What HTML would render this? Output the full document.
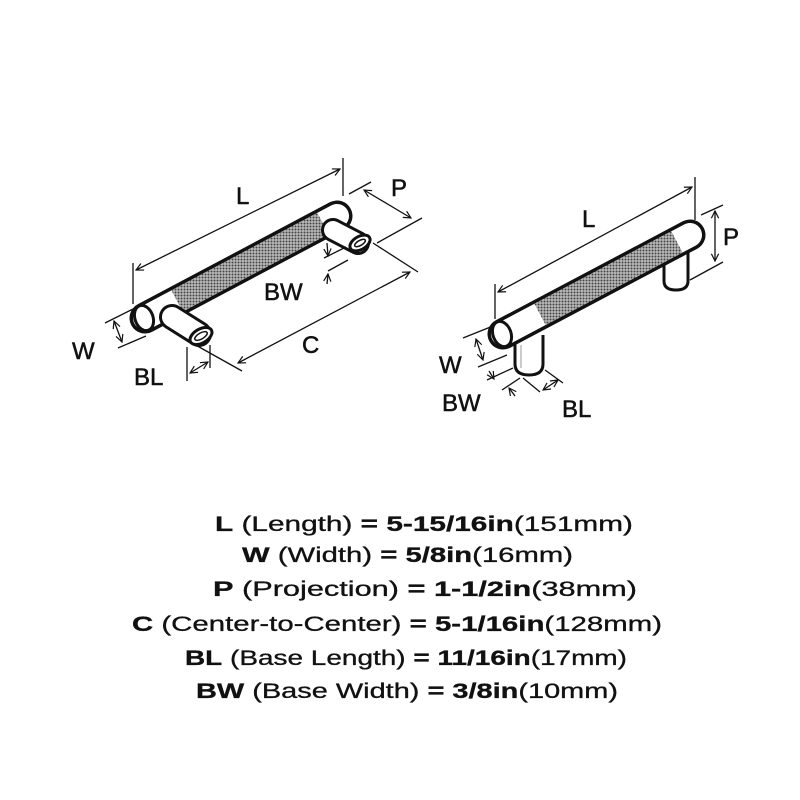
<!DOCTYPE html>
<html><head><meta charset="utf-8"><style>
html,body{margin:0;padding:0;background:#fff;}
svg{display:block;}
text{font-family:"Liberation Sans",sans-serif;fill:#111;}
.lb{font-size:24px;stroke:#111;stroke-width:0.5px;}
</style></head><body>
<svg width="800" height="800" viewBox="0 0 800 800" xmlns="http://www.w3.org/2000/svg">
<defs>
<pattern id="kn" width="3" height="3" patternUnits="userSpaceOnUse">
<rect width="3" height="3" fill="#bbb"/>
<circle cx="1.5" cy="1.5" r="1" fill="#444"/>
</pattern>
<marker id="ar" viewBox="0 0 10 10" refX="9" refY="5" markerWidth="7" markerHeight="7" orient="auto-start-reverse">
<path d="M1,1 L9,5 L1,9" fill="none" stroke="#111" stroke-width="1.3"/>
</marker>
</defs>

<!-- LEFT HANDLE -->
<g stroke-linecap="round">
<line x1="145" y1="318" x2="337" y2="216" stroke="#111" stroke-width="31"/>
<line x1="145" y1="318" x2="337" y2="216" stroke="#fff" stroke-width="24"/>
<line x1="177" y1="301" x2="323" y2="223.5" stroke="url(#kn)" stroke-width="24" stroke-linecap="butt"/>
</g>
<ellipse cx="144" cy="318" rx="9" ry="13" transform="rotate(-20 144 318)" fill="#fff" stroke="#111" stroke-width="3"/>
<!-- left post -->
<g stroke-linecap="round">
<line x1="172" y1="317" x2="199" y2="334" stroke="#111" stroke-width="26"/>
<line x1="172" y1="317" x2="199" y2="334" stroke="#fff" stroke-width="20"/>
</g>
<ellipse cx="201" cy="336" rx="12" ry="7" transform="rotate(-30 201 336)" fill="#fff" stroke="#111" stroke-width="3"/>
<ellipse cx="201" cy="336" rx="7" ry="3" transform="rotate(-30 201 336)" fill="none" stroke="#111" stroke-width="1.5"/>
<!-- right post -->
<g stroke-linecap="round">
<line x1="333" y1="230" x2="358" y2="243" stroke="#111" stroke-width="24"/>
<line x1="333" y1="230" x2="358" y2="243" stroke="#fff" stroke-width="18"/>
</g>
<ellipse cx="360" cy="243" rx="11" ry="6.5" transform="rotate(-30 360 243)" fill="#fff" stroke="#111" stroke-width="3"/>
<ellipse cx="360" cy="243" rx="6" ry="2.5" transform="rotate(-30 360 243)" fill="none" stroke="#111" stroke-width="1.5"/>

<!-- left dims -->
<g stroke="#111" stroke-width="1.3" fill="none">
<line x1="133" y1="263" x2="133" y2="304"/>
<line x1="343" y1="158" x2="343" y2="196"/>
<line x1="136" y1="270" x2="340" y2="169" marker-start="url(#ar)" marker-end="url(#ar)"/>
<line x1="349" y1="194" x2="371" y2="182"/>
<line x1="377" y1="243" x2="422" y2="218"/>
<line x1="364" y1="190" x2="411" y2="218" marker-start="url(#ar)" marker-end="url(#ar)"/>
<line x1="373" y1="243" x2="418" y2="272"/>
<line x1="192" y1="343" x2="242" y2="371"/>
<line x1="238" y1="363" x2="410" y2="272" marker-start="url(#ar)" marker-end="url(#ar)"/>
<line x1="327" y1="243" x2="328" y2="256" marker-end="url(#ar)"/>
<line x1="324" y1="258" x2="346" y2="247"/>
<line x1="328" y1="271" x2="348" y2="260"/>
<line x1="327" y1="284" x2="328" y2="274" marker-end="url(#ar)"/>
<line x1="105" y1="323" x2="133" y2="309"/>
<line x1="118" y1="348" x2="146" y2="336"/>
<line x1="114" y1="321" x2="122" y2="342" marker-start="url(#ar)" marker-end="url(#ar)"/>
<line x1="187" y1="347" x2="187" y2="381"/>
<line x1="210" y1="345" x2="210" y2="368"/>
<line x1="190" y1="373" x2="208" y2="362" marker-start="url(#ar)" marker-end="url(#ar)"/>
</g>
<text class="lb" x="236" y="204">L</text>
<text class="lb" x="391" y="196">P</text>
<text class="lb" x="264" y="300">BW</text>
<text class="lb" x="72" y="359">W</text>
<text class="lb" x="134" y="385">BL</text>
<text class="lb" x="302" y="353">C</text>

<!-- RIGHT HANDLE -->
<path d="M515,335 L515,364 Q515,375 529,375 Q543,375 543,364 L543,335" fill="#fff" stroke="#111" stroke-width="3"/>
<line x1="521" y1="345" x2="521" y2="368" stroke="#999" stroke-width="1"/>
<path d="M664,240 L664,281 Q664,290 676,290 Q688,290 688,281 L688,240" fill="#fff" stroke="#111" stroke-width="3"/>
<g stroke-linecap="round">
<line x1="503" y1="334" x2="690" y2="235" stroke="#111" stroke-width="31"/>
<line x1="503" y1="334" x2="690" y2="235" stroke="#fff" stroke-width="24"/>
<line x1="540" y1="314.4" x2="677" y2="241.9" stroke="url(#kn)" stroke-width="24" stroke-linecap="butt"/>
</g>
<ellipse cx="502" cy="334" rx="9" ry="13" transform="rotate(-20 502 334)" fill="#fff" stroke="#111" stroke-width="3"/>

<g stroke="#111" stroke-width="1.3" fill="none">
<line x1="495" y1="284" x2="495" y2="319"/>
<line x1="695" y1="177" x2="695" y2="220"/>
<line x1="498" y1="292" x2="692" y2="187" marker-start="url(#ar)" marker-end="url(#ar)"/>
<line x1="701" y1="215" x2="723" y2="205"/>
<line x1="690" y1="280" x2="723" y2="262"/>
<line x1="715" y1="211" x2="715" y2="261" marker-start="url(#ar)" marker-end="url(#ar)"/>
<line x1="463" y1="338" x2="493" y2="326"/>
<line x1="478" y1="367" x2="507" y2="355"/>
<line x1="476" y1="339" x2="483" y2="360" marker-start="url(#ar)" marker-end="url(#ar)"/>
<line x1="487" y1="380" x2="513" y2="368"/>
<line x1="502" y1="390" x2="520" y2="378"/>
<line x1="489" y1="371" x2="494" y2="379" marker-end="url(#ar)"/>
<line x1="515" y1="396" x2="509" y2="388" marker-end="url(#ar)"/>
<line x1="523" y1="378" x2="540" y2="392"/>
<line x1="545" y1="370" x2="563" y2="383"/>
<line x1="543" y1="390" x2="558" y2="380" marker-start="url(#ar)" marker-end="url(#ar)"/>
</g>
<text class="lb" x="582" y="227">L</text>
<text class="lb" x="723" y="245">P</text>
<text class="lb" x="439" y="373">W</text>
<text class="lb" x="442" y="411">BW</text>
<text class="lb" x="562" y="417">BL</text>

<!-- spec text -->
<g font-size="21" stroke="#111" stroke-width="0.3">
<text x="215" y="531" textLength="418" lengthAdjust="spacingAndGlyphs"><tspan font-weight="bold">L</tspan> (Length) <tspan font-weight="bold">= 5-15/16in</tspan>(151mm)</text>
<text x="242" y="562" textLength="331" lengthAdjust="spacingAndGlyphs"><tspan font-weight="bold">W</tspan> (Width) <tspan font-weight="bold">= 5/8in</tspan>(16mm)</text>
<text x="213" y="596" textLength="424" lengthAdjust="spacingAndGlyphs"><tspan font-weight="bold">P</tspan> (Projection) <tspan font-weight="bold">= 1-1/2in</tspan>(38mm)</text>
<text x="132" y="631" textLength="530" lengthAdjust="spacingAndGlyphs"><tspan font-weight="bold">C</tspan> (Center-to-Center) <tspan font-weight="bold">= 5-1/16in</tspan>(128mm)</text>
<text x="185" y="665" textLength="442" lengthAdjust="spacingAndGlyphs"><tspan font-weight="bold">BL</tspan> (Base Length) <tspan font-weight="bold">= 11/16in</tspan>(17mm)</text>
<text x="196" y="698" textLength="422" lengthAdjust="spacingAndGlyphs"><tspan font-weight="bold">BW</tspan> (Base Width) <tspan font-weight="bold">= 3/8in</tspan>(10mm)</text>
</g>
</svg>
</body></html>
